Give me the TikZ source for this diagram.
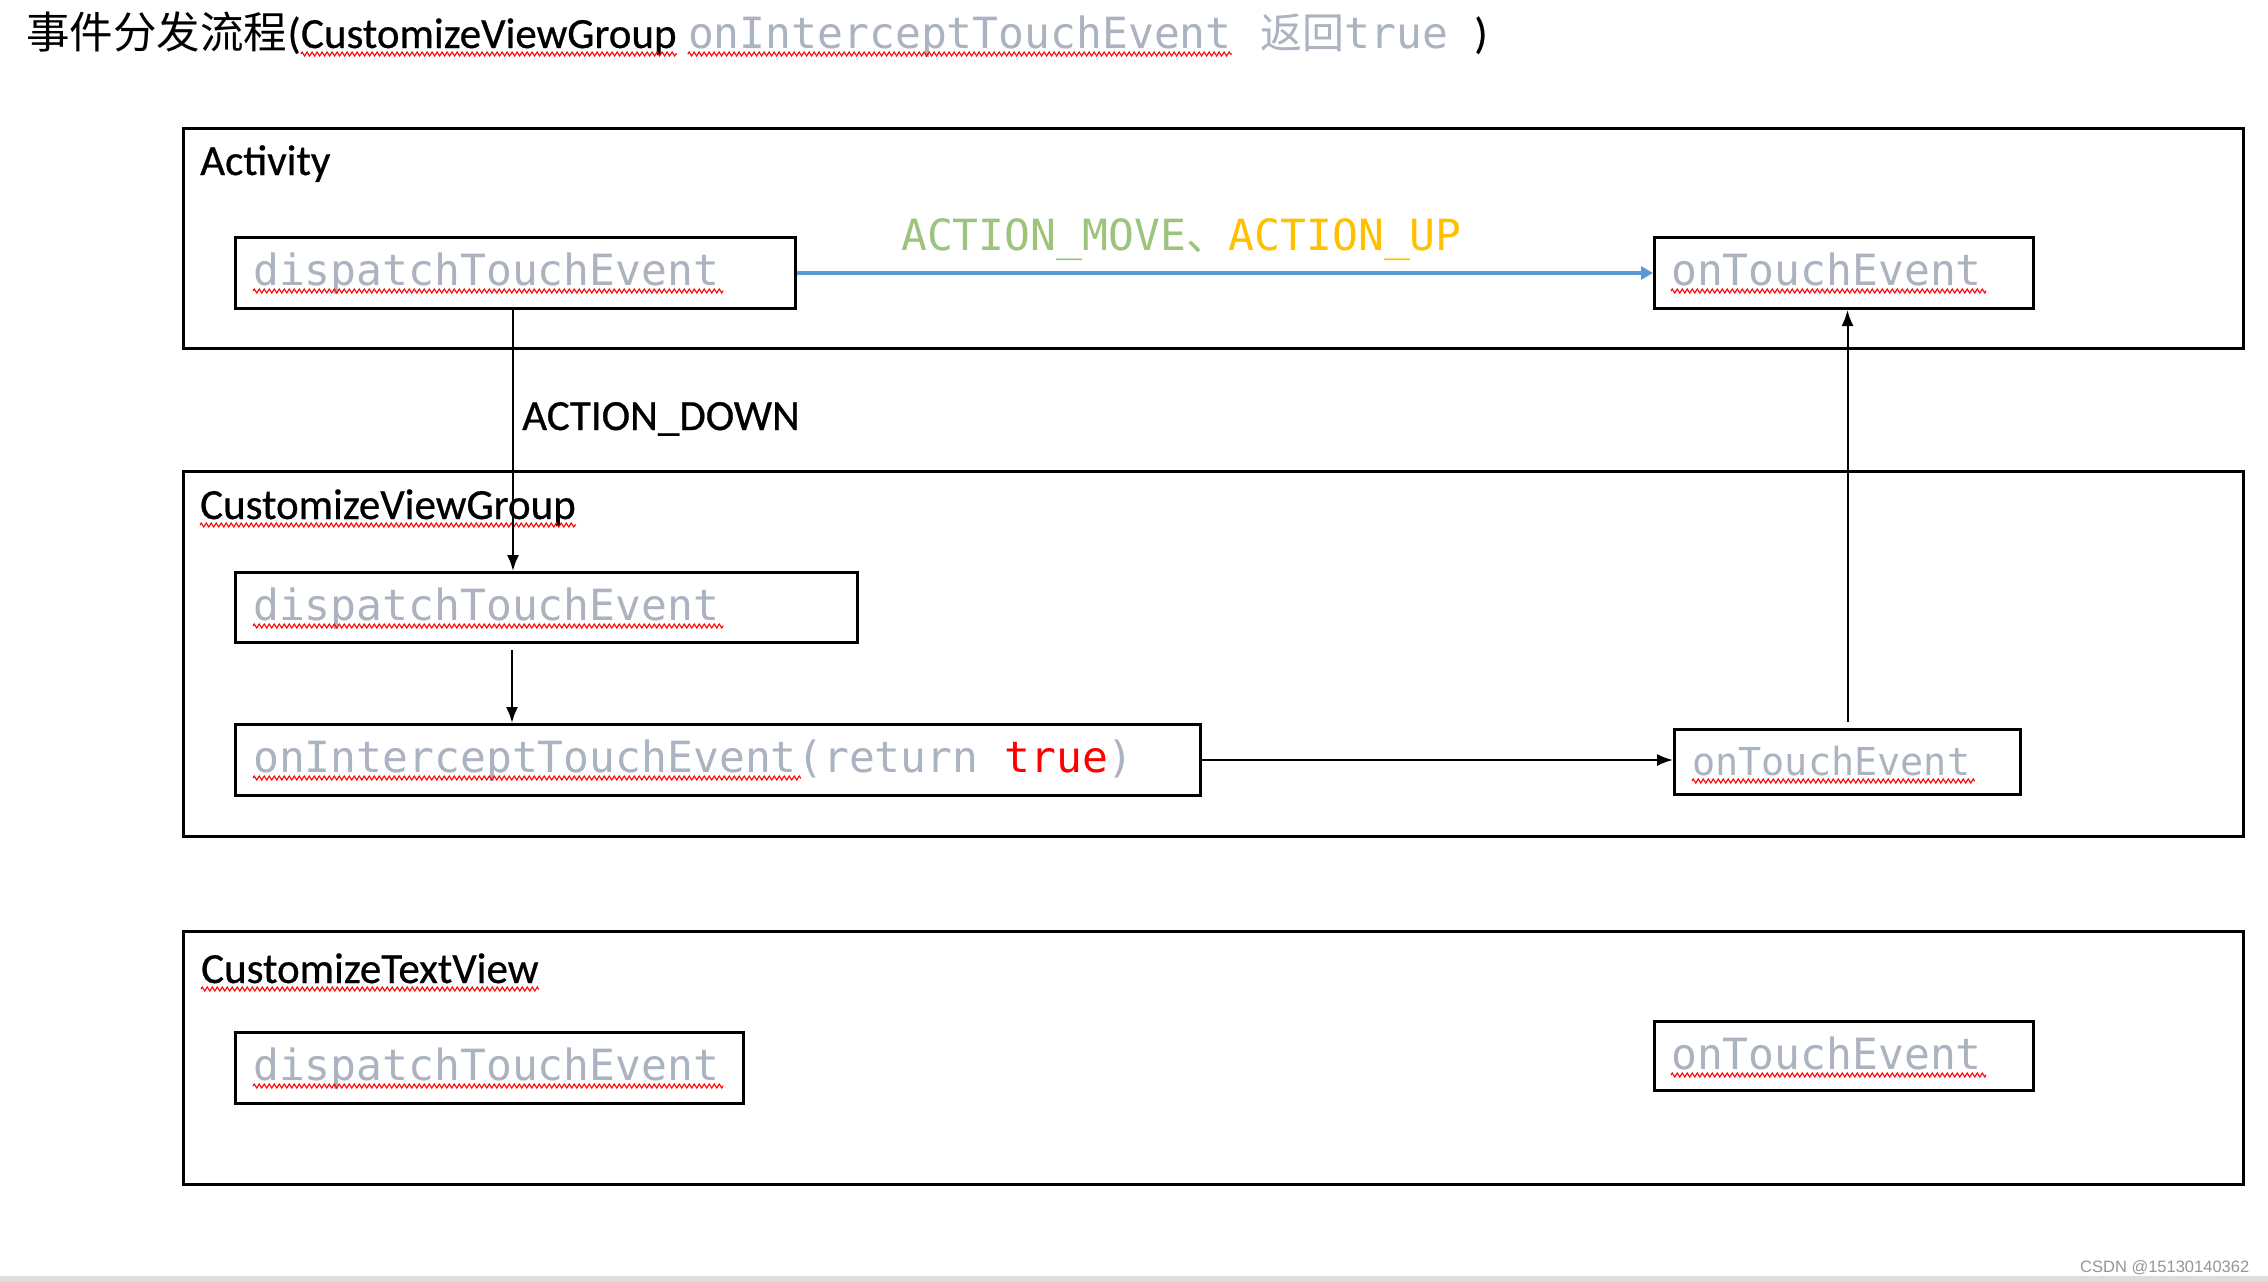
\documentclass[tikz,border=0pt]{standalone}
\usepackage{fontspec}
\setmainfont{Carlito}[FakeBold=0.6]
\newfontfamily\cjk{Noto Sans CJK SC}
\newfontfamily\mono{DejaVu Sans Mono}
\newfontfamily\arialf{Liberation Sans}
\usetikzlibrary{arrows.meta,decorations.pathmorphing,calc}
\definecolor{codegray}{RGB}{171,178,192}
\definecolor{actgreen}{RGB}{157,195,124}
\definecolor{actgold}{RGB}{255,192,0}
\definecolor{arrowblue}{RGB}{91,155,213}
\definecolor{bargray}{RGB}{221,221,221}
\definecolor{wmgray}{RGB}{150,150,150}
\newcommand\myfs[1]{\fontsize{#1}{#1}\selectfont}
\tikzset{
  box/.style={draw, line width=3pt, inner sep=0pt, anchor=north west},
  gtext/.style={anchor=base west, inner sep=0pt, text=codegray, font=\mono\myfs{43}},
  lbl/.style={anchor=base west, inner sep=0pt, font=\myfs{43}},
  squig/.style={draw=red, line width=1.1pt, decorate, decoration={zigzag, segment length=5pt, amplitude=2pt}},
  arr/.style={line width=2pt, -{Latex[length=16pt,width=12pt]}},
  bluearr/.style={line width=4pt, draw=arrowblue, -{Triangle[length=12pt,width=13pt]}},
}
\begin{document}
\begin{tikzpicture}[x=1pt,y=-1pt]
\useasboundingbox (0,0) rectangle (2268,1282);
\fill[white] (0,0) rectangle (2268,1282);
\fill[bargray] (0,1276) rectangle (2268,1282);

% title
\node[anchor=base west, inner sep=0pt, font=\cjk\myfs{43.5}] (t1) at (26,48) {事件分发流程};
\node[lbl] (t2a) at (t1.base east) {(};
\node[lbl] (t2) at (t2a.base east) {CustomizeViewGroup};
\node[gtext] (t3) at ([xshift=11pt]t2.base east) {onInterceptTouchEvent};
\node[anchor=base west, inner sep=0pt, text=codegray, font=\cjk\myfs{42}] (t4) at ([xshift=28pt]t3.base east) {返回};
\node[gtext] (t5) at (t4.base east) {true};
\node[lbl] (t6) at ([xshift=26pt]t5.base east) {)};
\draw[squig] ([yshift=-6pt]t2.base west) -- ([yshift=-6pt]t2.base east);
\draw[squig] ([yshift=-6pt]t3.base west) -- ([yshift=-6pt]t3.base east);

% containers
\node[box, minimum width=2060pt, minimum height=220pt] (act) at (182,127) {};
\node[box, minimum width=2060pt, minimum height=365pt] (cvg) at (182,470) {};
\node[box, minimum width=2060pt, minimum height=253pt] (ctv) at (182,930) {};
\node[lbl] (lact) at (200,175) {Activity};
\node[lbl] (lcvg) at (200,519) {CustomizeViewGroup};
\node[lbl] (lctv) at (201,983) {CustomizeTextView};
\draw[squig] ([yshift=-6pt]lcvg.base west) -- ([yshift=-6pt]lcvg.base east);
\draw[squig] ([yshift=-6pt]lctv.base west) -- ([yshift=-6pt]lctv.base east);

% method boxes
\node[box, minimum width=560pt, minimum height=71pt] (d1) at (234,236) {};
\node[box, minimum width=379pt, minimum height=71pt] (o1) at (1653,236) {};
\node[box, minimum width=622pt, minimum height=70pt] (d2) at (234,571) {};
\node[box, minimum width=965pt, minimum height=71pt] (ic) at (234,723) {};
\node[box, minimum width=346pt, minimum height=65pt] (o2) at (1673,728) {};
\node[box, minimum width=508pt, minimum height=71pt] (d3) at (234,1031) {};
\node[box, minimum width=379pt, minimum height=69pt] (o3) at (1653,1020) {};

% method texts
\node[gtext] (g1) at (253,285) {dispatchTouchEvent};
\node[gtext] (g2) at (1671,285) {onTouchEvent};
\node[gtext] (g3) at (253,620) {dispatchTouchEvent};
\node[gtext] (g4) at (253,772) {onInterceptTouchEvent};
\node[gtext] (g4b) at (g4.base east) {(return \textcolor{red}{true})};
\node[gtext, font=\mono\myfs{38.5}] (g5) at (1692,775) {onTouchEvent};
\node[gtext] (g6) at (253,1080) {dispatchTouchEvent};
\node[gtext] (g7) at (1671,1069) {onTouchEvent};
\foreach \g in {g1,g2,g3,g4,g5,g6,g7}{
  \draw[squig] ([yshift=-6pt]\g.base west) -- ([yshift=-6pt,xshift=4pt]\g.base east);
}

% labels on connectors
\node[gtext, text=actgreen] (am) at (901,250) {ACTION\_MOVE};
\node[anchor=base west, inner sep=0pt, text=actgreen, font=\cjk\myfs{42}] (comma) at (am.base east) {、};
\node[gtext, text=actgold] (au) at (comma.base east) {ACTION\_UP};
\node[lbl] (ad) at (522,430) {ACTION\_DOWN};

% connectors
\draw[bluearr] (d1.east) -- (o1.west);
\draw[arr] ([xshift=279pt]d1.south west) -- ([xshift=279pt]d2.north west);
\draw[arr] ([xshift=278pt,yshift=-6pt]d2.south west) -- ([xshift=278pt]ic.north west);
\draw[arr] (ic.east) -- (ic.east -| o2.west);
\draw[arr] ([yshift=6pt]o2.north) -- (o2.north |- o1.south);

% watermark
\node[anchor=base west, inner sep=0pt, text=wmgray, font=\arialf\myfs{16.5}] (wm) at (2080,1272) {CSDN @15130140362};
\end{tikzpicture}
\end{document}
